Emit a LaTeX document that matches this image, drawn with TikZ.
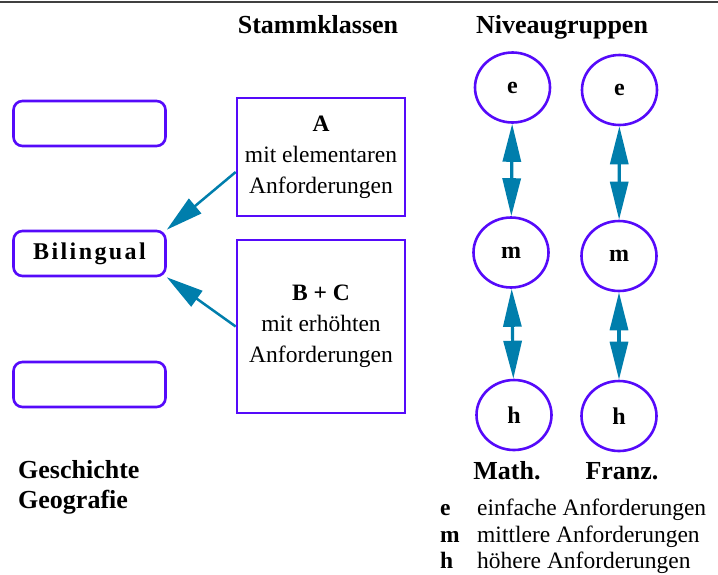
\documentclass[tikz,border=0pt]{standalone}
\usepackage{fontspec}
\setmainfont{Liberation Serif}
\usetikzlibrary{arrows.meta,shapes.geometric}
\definecolor{vio}{RGB}{85,10,250}
\definecolor{teal2}{RGB}{0,126,172}
\definecolor{topgray}{RGB}{64,64,64}
\begin{document}
\begin{tikzpicture}[x=1pt,y=-1pt,
 rbox/.style={draw=vio,line width=2.6pt,rounded corners=9pt,minimum width=152pt,minimum height=45pt,inner sep=0pt},
 sbox/.style={draw=vio,line width=2.6pt,minimum width=168pt,inner sep=0pt,align=center,font=\fontsize{23.5}{31}\selectfont},
 lvl/.style={draw=vio,line width=2.6pt,ellipse,minimum width=75pt,minimum height=70pt,inner sep=0pt,font=\fontsize{24}{28}\selectfont\bfseries},
 head/.style={font=\fontsize{26}{30}\selectfont\bfseries,inner sep=0pt,anchor=base},
 conn/.style={draw=teal2,line width=2.5pt,-{Triangle[length=37pt,width=19pt]}},
 dconn/.style={draw=teal2,line width=3.2pt,{Triangle[length=38pt,width=18pt]}-{Triangle[length=38pt,width=18pt]}},
 leg/.style={font=\fontsize{23.5}{28}\selectfont,inner sep=0pt,anchor=base west},
]
\useasboundingbox (0,0) rectangle (718,574);
\draw[topgray,line width=2pt] (0,1.5) -- (718,1.5);

\node[head] (stk) at (318,33) {Stammklassen};
\node[head] (niv) at (562,33) {Niveaugruppen};

\node[rbox] (r1) at (89.5,123.5) {};
\node[rbox,font=\fontsize{24}{28}\selectfont\bfseries\addfontfeatures{LetterSpace=10}] (bil) at (89.5,253.5) {Bilingual};
\node[rbox] (r3) at (89.5,384.5) {};

\node[sbox,minimum height=118pt] (A) at (321,157) {\textbf{A}\\mit elementaren\\ Anforderungen};
\node[sbox,minimum height=173pt] (BC) at (321,326.5) {\textbf{B + C}\\mit erhöhten\\ Anforderungen};

\draw[conn] ([yshift=-15pt]A.west) -- (bil.north east);
\draw[conn] (BC.west) -- (bil.south east);

\node[lvl] (e1) at (512.5,87.5) {e};
\node[lvl] (m1) at (511,252.5) {m};
\node[lvl] (h1) at (514,415) {h};
\node[lvl] (e2) at (619.5,90) {e};
\node[lvl] (m2) at (619,256) {m};
\node[lvl] (h2) at (619,416) {h};

\draw[dconn] (e1) -- (m1);
\draw[dconn] (m1) -- (h1);
\draw[dconn] (e2) -- (m2);
\draw[dconn] (m2) -- (h2);

\node[head] (math) at (507,479) {Math.};
\node[head] (franz) at (622,479) {Franz.};

\node[head,anchor=base west] (gesch) at (18,478) {Geschichte};
\node[head,anchor=base west] (geo) at (18,508) {Geografie};

\node[leg,font=\fontsize{23.5}{28}\selectfont\bfseries] (le) at (440,515) {e};
\node[leg] (lte) at (477,515) {einfache Anforderungen};
\node[leg,font=\fontsize{23.5}{28}\selectfont\bfseries] (lm) at (440,542) {m};
\node[leg] (ltm) at (477,542) {mittlere Anforderungen};
\node[leg,font=\fontsize{23.5}{28}\selectfont\bfseries] (lh) at (440,568) {h};
\node[leg] (lth) at (477,568) {höhere Anforderungen};
\end{tikzpicture}
\end{document}
